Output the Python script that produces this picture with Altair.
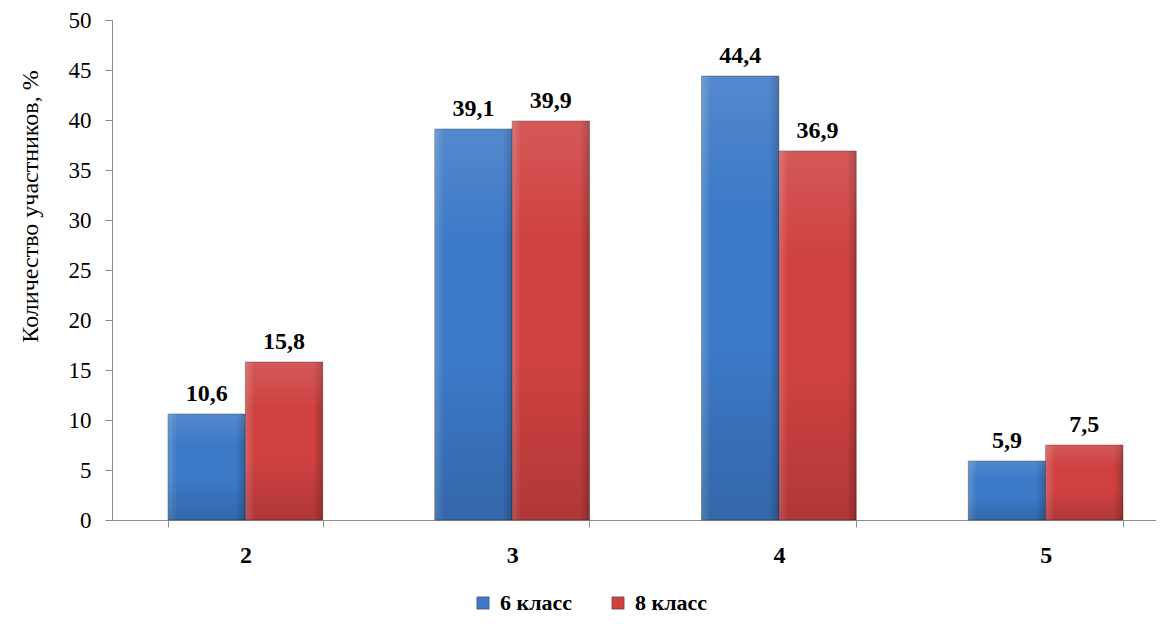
import altair as alt
import pandas as pd

categories = ["2", "3", "4", "5"]
series = ["6 класс", "8 класс"]
values_6 = [10.6, 39.1, 44.4, 5.9]
values_8 = [15.8, 39.9, 36.9, 7.5]
colors = ["#3c79c7", "#cf4141"]

rows = []
for c, v6, v8 in zip(categories, values_6, values_8):
    rows.append({"cat": c, "series": series[0], "value": v6, "label": f"{v6:.1f}".replace(".", ",")})
    rows.append({"cat": c, "series": series[1], "value": v8, "label": f"{v8:.1f}".replace(".", ",")})
df = pd.DataFrame(rows)

FONT = "Liberation Serif"

x_enc = alt.X(
    "cat:N",
    sort=categories,
    scale=alt.Scale(range=[0, 1067], paddingInner=0.42, paddingOuter=0.21),
    axis=alt.Axis(
        title=None, labelAngle=0, tickBand="extent", tickSize=7, tickColor="#8c8c8c",
        domainColor="#8c8c8c", labelFont=FONT, labelFontSize=24, labelFontWeight="bold",
        labelColor="black", labelPadding=16,
    ),
)
xo_enc = alt.XOffset("series:N", sort=series)
y_enc = alt.Y(
    "value:Q",
    scale=alt.Scale(domain=[0, 50]),
    axis=alt.Axis(
        title="Количество участников, %", values=list(range(0, 51, 5)), grid=False,
        tickSize=7, tickColor="#8c8c8c", domainColor="#8c8c8c", labelFont=FONT,
        labelFontSize=23, labelColor="black", labelPadding=14, titleFont=FONT,
        titleFontSize=24, titleFontWeight="normal", titleColor="black",
        titleX=-82, titleY=186, titleBaseline="middle", titleAngle=270,
    ),
)

base = alt.Chart(df)

bars = base.mark_bar(stroke="#1a1a1a", strokeOpacity=0.35, strokeWidth=1).encode(
    x=x_enc, xOffset=xo_enc, y=y_enc,
    color=alt.Color(
        "series:N",
        scale=alt.Scale(domain=series, range=colors),
        legend=alt.Legend(
            title=None, orient="none", legendX=360, legendY=572, direction="horizontal",
            symbolType="square", symbolSize=150, symbolStrokeWidth=0.5, symbolStrokeColor="#333",
            labelFont=FONT, labelFontSize=22, labelFontWeight="bold", labelColor="black",
            columnPadding=34, labelOffset=6,
        ),
    ),
)

grad_h = alt.Gradient(
    gradient="linear", x1=0, x2=1, y1=0, y2=0,
    stops=[
        alt.GradientStop(color="rgba(255,255,255,0.18)", offset=0),
        alt.GradientStop(color="rgba(255,255,255,0.0)", offset=0.12),
        alt.GradientStop(color="rgba(0,0,0,0.0)", offset=0.88),
        alt.GradientStop(color="rgba(0,0,0,0.22)", offset=1),
    ],
)
grad_v = alt.Gradient(
    gradient="linear", x1=0, x2=0, y1=0, y2=1,
    stops=[
        alt.GradientStop(color="rgba(255,255,255,0.12)", offset=0),
        alt.GradientStop(color="rgba(255,255,255,0.0)", offset=0.3),
        alt.GradientStop(color="rgba(0,0,0,0.0)", offset=0.6),
        alt.GradientStop(color="rgba(0,0,0,0.15)", offset=1),
    ],
)
shade_h = base.mark_bar(color=grad_h).encode(x=x_enc, xOffset=xo_enc, y=y_enc)
shade_v = base.mark_bar(color=grad_v).encode(x=x_enc, xOffset=xo_enc, y=y_enc)

texts = base.mark_text(
    font=FONT, fontSize=24, fontWeight="bold", color="black", baseline="bottom", dy=-8,
).encode(x=x_enc, xOffset=xo_enc, y=y_enc, text="label:N")

chart = alt.layer(bars, shade_h, shade_v, texts).properties(
    width=1044, height=500,
    autosize=alt.AutoSizeParams(type="none"),
    padding={"left": 104, "top": 12, "right": 0, "bottom": 96},
).configure_view(stroke=None)

chart.save("out.html", embed_options={"renderer": "svg", "actions": False})
